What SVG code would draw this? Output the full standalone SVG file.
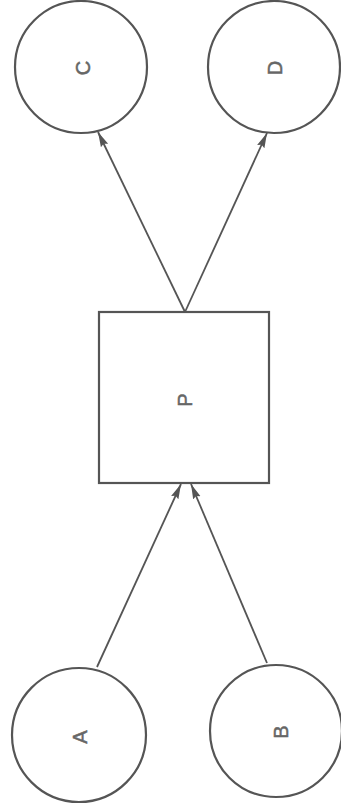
<svg xmlns="http://www.w3.org/2000/svg" width="341" height="811" viewBox="0 0 341 811">
<defs>
<marker id="arr" viewBox="0 0 15 9" refX="15" refY="4.5" markerWidth="15" markerHeight="9" markerUnits="userSpaceOnUse" orient="auto">
<path d="M0,0.5 L15,4.5 L0,8.5 L2,4.5 Z" fill="#555"/>
</marker>
</defs>
<style>
.node{fill:none;stroke:#555;stroke-width:2.2}
.lbl{font-family:"Liberation Sans",Arial,sans-serif;font-size:20px;fill:#666;stroke:#666;stroke-width:0.5;text-anchor:middle;dominant-baseline:central}
.edge{stroke:#555;stroke-width:1.8;fill:none}
</style>
<rect width="341" height="811" fill="#fff"/>
<g id="C"><circle class="node" cx="81" cy="67" r="66"/><text class="lbl" transform="translate(83,68) rotate(-90)">C</text></g>
<g id="D"><circle class="node" cx="274" cy="67" r="66"/><text class="lbl" transform="translate(275,68) rotate(-90)">D</text></g>
<g id="P"><rect class="node" x="99" y="312" width="170" height="171"/><text class="lbl" transform="translate(185,400) rotate(-90)">P</text></g>
<g id="A"><circle class="node" cx="79" cy="735" r="67"/><text class="lbl" transform="translate(80,737) rotate(-90)">A</text></g>
<g id="B"><circle class="node" cx="276" cy="731" r="66"/><text class="lbl" transform="translate(281,732) rotate(-90)">B</text></g>
<g id="connectors">
<line class="edge" x1="185" y1="312" x2="98" y2="132" marker-end="url(#arr)"/>
<line class="edge" x1="185" y1="312" x2="267" y2="133" marker-end="url(#arr)"/>
<line class="edge" x1="97" y1="667" x2="181" y2="484" marker-end="url(#arr)"/>
<line class="edge" x1="267" y1="663" x2="191" y2="484" marker-end="url(#arr)"/>
</g>
</svg>
